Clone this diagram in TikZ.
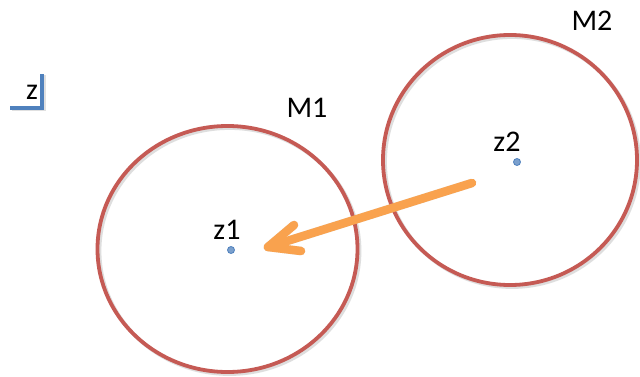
\documentclass[tikz,border=0pt]{standalone}
\usepackage{fontspec}
\setmainfont{Carlito}
\begin{document}
\begin{tikzpicture}[x=1pt,y=-1pt,
  ring/.style={draw=ringred,line width=3.8pt},
  ringshade/.style={draw=black!25,line width=3.8pt,opacity=0.5},
  centre/.style={circle,fill=dotblue!75!white,draw=dotblue,line width=0.8pt,inner sep=0pt,minimum size=7pt},
  lbl/.style={font=\fontsize{30}{30}\selectfont,inner sep=0pt,text=black},
  move/.style={draw=arroworange,line width=8.5pt,line cap=round,line join=round},
  moveshade/.style={draw=black!30,line width=8.5pt,line cap=round,line join=round,opacity=0.35},
  axis/.style={draw=dotblue,line width=4pt}]
\definecolor{ringred}{HTML}{C55A54}
\definecolor{dotblue}{HTML}{4F81BD}
\definecolor{arroworange}{HTML}{F9A24E}
\useasboundingbox (0,0) rectangle (640,377);
\fill[white] (0,0) rectangle (640,377);

% the two regions M1 and M2 (soft shadow first, then the outline)
\draw[ringshade] (229.5,251) ellipse [x radius=130,y radius=123];
\draw[ringshade] (512,162) ellipse [x radius=127,y radius=125];
\draw[ring] (227.5,249) ellipse [x radius=130,y radius=123];
\draw[ring] (510,160) ellipse [x radius=127,y radius=125];

% small axis mark with its label
\coordinate (ax1) at (10,108);
\coordinate (ax2) at (42,108);
\coordinate (ax3) at (42,74);
\draw[axis,opacity=0.3,draw=black!40] ([shift={(1.5,1.5)}]ax1) -- ([shift={(1.5,1.5)}]ax2) -- ([shift={(1.5,1.5)}]ax3);
\draw[axis] (ax1) -- (ax2) -- (ax3);
\node[lbl] (zl) at (32,92) {z};

% region labels
\node[lbl] (m1) at (307,108) {M1};
\node[lbl] (m2) at (592,21) {M2};

% centre points
\node[centre] (c1) at (231,250) {};
\node[centre] (c2) at (517,162) {};
\node[lbl] (z1) at (227,230) {z1};
\node[lbl] (z2) at (507,142) {z2};

% displacement arrow from z2 towards z1
\coordinate (tail) at (472,183);
\coordinate (tip) at (268,247);
\coordinate (wa) at (294,225);
\coordinate (wb) at (301,251);
\begin{scope}[shift={(2,3)}]
  \draw[moveshade] (tail) -- (tip);
  \draw[moveshade] (wa) -- (tip) -- (wb);
\end{scope}
\draw[move] (tail) -- (tip);
\draw[move] (wa) -- (tip) -- (wb);
\end{tikzpicture}
\end{document}
